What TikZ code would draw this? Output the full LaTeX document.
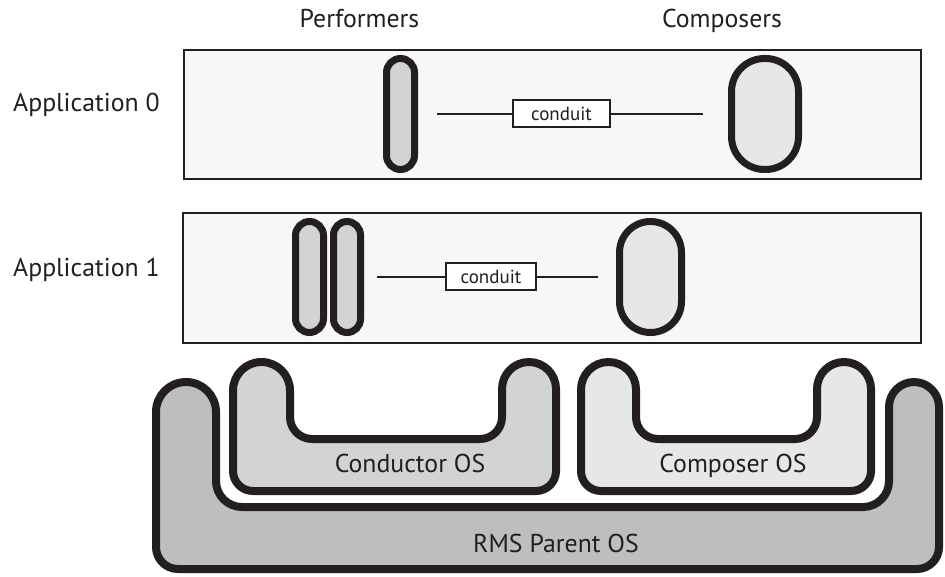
\documentclass[tikz,border=0pt]{standalone}
\usepackage{fontspec}
\setmainfont{PT Sans}
\usetikzlibrary{calc}

\definecolor{ink}{HTML}{231F20}
\definecolor{appfill}{HTML}{F7F7F7}
\definecolor{darkfill}{HTML}{D1D3D4}
\definecolor{lightfill}{HTML}{E6E7E8}
\definecolor{rmsfill}{HTML}{BCBEC0}

\tikzset{
  appbox/.style={draw=ink, line width=2pt, fill=appfill, inner sep=0pt},
  pill/.style={draw=ink, line width=7pt, inner sep=0pt},
  conduitbox/.style={draw=ink, line width=2pt, fill=white, inner sep=0pt,
    text=ink, font=\fontsize{19}{22}\selectfont},
  link/.style={draw=ink, line width=2pt},
  osline/.style={draw=ink, line width=8pt, line join=round},
  lbl/.style={text=ink, inner sep=0pt, font=\fontsize{25.8}{30}\selectfont},
}

\begin{document}
\begin{tikzpicture}[x=1pt, y=-1pt]
\useasboundingbox[fill=white] (0,0) rectangle (945,577);

% column headings and row labels
\node[lbl, anchor=base] (hperf) at (359.5,28) {Performers};
\node[lbl, anchor=base] (hcomp) at (722,28) {Composers};
\node[lbl, anchor=base west] (lapp0) at (13,112) {Application 0};
\node[lbl, anchor=base west] (lapp1) at (13,277) {Application 1};

% application frames
\node[appbox, minimum width=737pt, minimum height=129pt] (app0) at (552.5,114.5) {};
\node[appbox, minimum width=738pt, minimum height=130pt] (app1) at (552,278) {};

% application 0: one performer, one composer
\node[pill, fill=darkfill, minimum width=28pt, minimum height=111pt,
      rounded corners=14pt] (perf0) at (400.5,114) {};
\node[pill, fill=lightfill, minimum width=67pt, minimum height=111pt,
      rounded corners=33pt] (comp0) at (765,114) {};
\node[conduitbox, minimum width=97pt, minimum height=27pt] (cond0) at (561.5,114) {conduit};
\draw[link, shorten <=19pt] (perf0) -- (cond0);
\draw[link, shorten >=25pt] (cond0) -- (comp0);

% application 1: two performers, one composer
\node[pill, fill=darkfill, minimum width=28pt, minimum height=111pt,
      rounded corners=14pt] (perf1a) at (309.5,277) {};
\node[pill, fill=darkfill, minimum width=27pt, minimum height=111pt,
      rounded corners=13.5pt] (perf1b) at (347,277) {};
\node[pill, fill=lightfill, minimum width=62pt, minimum height=111pt,
      rounded corners=31pt] (comp1) at (650.5,277) {};
\node[conduitbox, minimum width=90pt, minimum height=27pt] (cond1) at (491,277) {conduit};
\draw[link, shorten <=13pt] (perf1b) -- (cond1);
\draw[link, shorten >=18pt] (cond1) -- (comp1);

% RMS parent OS tray
\draw[osline, fill=rmsfill]
  (556,569) -- (178,569) arc[start angle=90, end angle=180, radius=22]
  -- (156,412) arc[start angle=180, end angle=360, radius=30]
  -- (216,481) arc[start angle=180, end angle=90, radius=26]
  -- (863,507) arc[start angle=90, end angle=0, radius=26]
  -- (889,407) arc[start angle=180, end angle=360, radius=25]
  -- (939,547) arc[start angle=0, end angle=90, radius=22]
  -- cycle;

% conductor OS tray
\draw[osline, fill=darkfill]
  (395,491) -- (253,491) arc[start angle=90, end angle=180, radius=20]
  -- (233,390.5) arc[start angle=180, end angle=360, radius=28.5]
  -- (290,417) arc[start angle=180, end angle=90, radius=22]
  -- (480,439) arc[start angle=90, end angle=0, radius=22]
  -- (502,389) arc[start angle=180, end angle=360, radius=27]
  -- (556,471) arc[start angle=0, end angle=90, radius=20]
  -- cycle;

% composer OS tray
\draw[osline, fill=lightfill]
  (726,491) -- (601,491) arc[start angle=90, end angle=180, radius=20]
  -- (581,389.5) arc[start angle=180, end angle=360, radius=27.5]
  -- (636,417) arc[start angle=180, end angle=90, radius=22]
  -- (795,439) arc[start angle=90, end angle=0, radius=22]
  -- (817,389) arc[start angle=180, end angle=360, radius=27]
  -- (871,471) arc[start angle=0, end angle=90, radius=20]
  -- cycle;

\node[lbl, anchor=base] (conductor) at (410,472) {Conductor OS};
\node[lbl, anchor=base] (composer) at (733,472) {Composer OS};
\node[lbl, anchor=base] (rms) at (556,552) {RMS Parent OS};
\end{tikzpicture}
\end{document}
